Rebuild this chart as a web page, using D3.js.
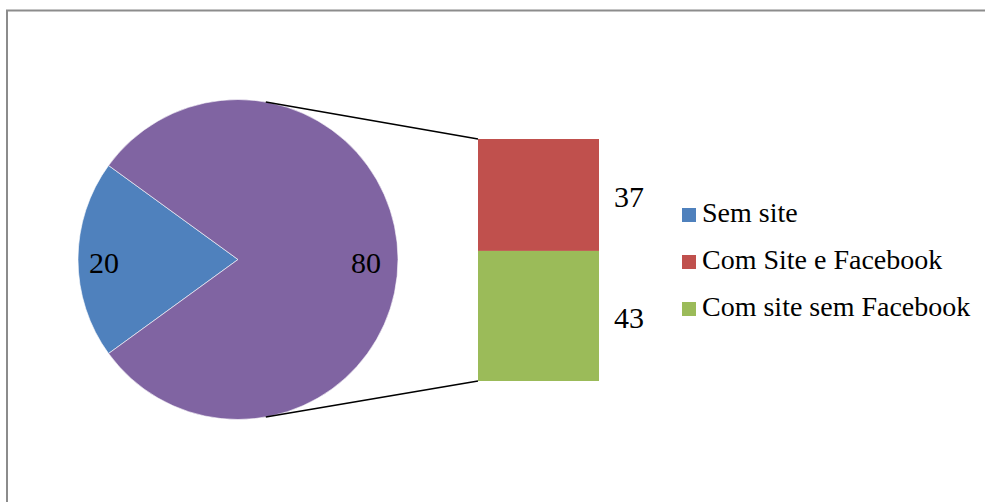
<!DOCTYPE html>
<html>
<head>
<meta charset="utf-8">
<script src="https://cdn.jsdelivr.net/npm/d3@7"></script>
<style>
  html, body { margin: 0; padding: 0; background: #fff; }
  svg { display: block; }
  text { font-family: "Times New Roman", "Liberation Serif", serif; fill: #000; }
</style>
</head>
<body>
<svg id="chart" width="985" height="502"></svg>
<script>
// Pie: share of businesses with / without a website
const pieCategories = ["Sem site", "Com site"];
const pieValues = [20, 80];

// Breakdown of the "Com site" slice
const barCategories = ["Com Site e Facebook", "Com site sem Facebook"];
const barValues = [37, 43];

const legendLabels = ["Sem site", "Com Site e Facebook", "Com site sem Facebook"];

const colors = {
  "Sem site": "#4F81BD",
  "Com site": "#8064A2",
  "Com Site e Facebook": "#C0504D",
  "Com site sem Facebook": "#9BBB59"
};

const svg = d3.select("#chart");

// chart frame
svg.append("rect")
  .attr("x", 7).attr("y", 10.5)
  .attr("width", 1000).attr("height", 600)
  .attr("fill", "none")
  .attr("stroke", "#8c8c8c")
  .attr("stroke-width", 2);

// ---- pie ----
const cx = 238, cy = 259.5, r = 160;
const firstShare = pieValues[0] / d3.sum(pieValues);
const start = -Math.PI / 2 - firstShare * Math.PI; // first slice centred on the left
const pie = d3.pie().sort(null).value(d => d)
  .startAngle(start).endAngle(start + 2 * Math.PI);
const arcs = pie(pieValues);
const arc = d3.arc().innerRadius(0).outerRadius(r);
const labelArc = d3.arc().innerRadius(131).outerRadius(131);

const pieG = svg.append("g").attr("transform", `translate(${cx},${cy})`);
pieG.selectAll("path.slice").data(arcs).enter().append("path")
  .attr("class", "slice")
  .attr("d", arc)
  .attr("fill", (d, i) => colors[pieCategories[i]])
  .attr("stroke", "#fff")
  .attr("stroke-width", 0.6);

pieG.selectAll("text.val").data(arcs).enter().append("text")
  .attr("class", "val")
  .attr("x", d => labelArc.centroid(d)[0] - 3)
  .attr("y", d => labelArc.centroid(d)[1] + 13.5)
  .attr("text-anchor", "middle")
  .style("font-size", "30px")
  .text(d => d.data);

// ---- stacked bar ----
const barX = 478, barW = 121, barTop = 139, barH = 242;
const y = d3.scaleLinear().domain([0, d3.sum(barValues)]).range([barTop, barTop + barH]);
let acc = 0;
const segs = barValues.map((v, i) => {
  const s = { name: barCategories[i], v, y0: acc, y1: acc + v };
  acc += v;
  return s;
});

// connector lines from the pie edge to the bar corners
const tilt = 10 * Math.PI / 180;
const px = cx + r * Math.sin(tilt);
const pyTop = cy - r * Math.cos(tilt);
const pyBot = cy + r * Math.cos(tilt);
svg.append("line")
  .attr("x1", px).attr("y1", pyTop)
  .attr("x2", barX).attr("y2", y(0))
  .attr("stroke", "#000").attr("stroke-width", 1.6);
svg.append("line")
  .attr("x1", px).attr("y1", pyBot)
  .attr("x2", barX).attr("y2", y(d3.sum(barValues)))
  .attr("stroke", "#000").attr("stroke-width", 1.6);

svg.selectAll("rect.seg").data(segs).enter().append("rect")
  .attr("class", "seg")
  .attr("x", barX).attr("width", barW)
  .attr("y", d => y(d.y0))
  .attr("height", d => y(d.y1) - y(d.y0))
  .attr("fill", d => colors[d.name]);

svg.selectAll("text.segval").data(segs).enter().append("text")
  .attr("class", "segval")
  .attr("x", barX + barW + 15)
  .attr("y", d => (y(d.y0) + y(d.y1)) / 2 + 12)
  .style("font-size", "30px")
  .text(d => d.v);

// ---- legend ----
const legend = svg.append("g");
const rows = legend.selectAll("g").data(legendLabels).enter().append("g")
  .attr("transform", (d, i) => `translate(682,${222 + i * 47})`);
rows.append("rect")
  .attr("x", 0).attr("y", -14)
  .attr("width", 14).attr("height", 14)
  .attr("fill", d => colors[d]);
rows.append("text")
  .attr("x", 20).attr("y", 0)
  .style("font-size", "28px")
  .text(d => d);
</script>
</body>
</html>
